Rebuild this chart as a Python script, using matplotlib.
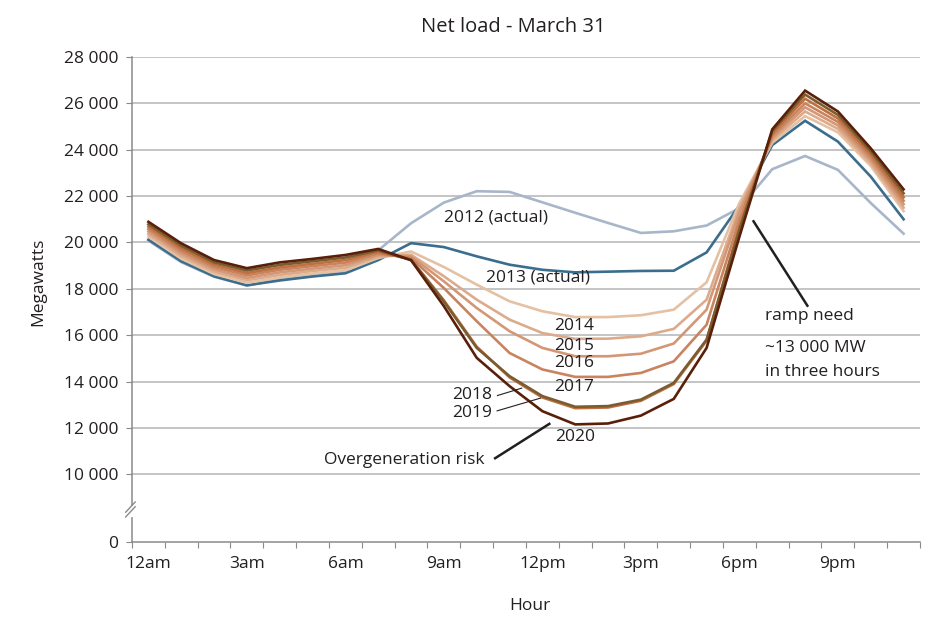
import numpy as np
import matplotlib
matplotlib.use("Agg")
import matplotlib.pyplot as plt

plt.rcParams['font.family'] = ['Open Sans', 'DejaVu Sans']

# -------------------- Data (MW, hour 0 = 12am) --------------------
hours = list(range(24))
hour_labels = ['12am', '3am', '6am', '9am', '12pm', '3pm', '6pm', '9pm']

load_2012 = [20080, 19150, 18520, 18140, 18420, 18600, 18760, 19660, 20830, 21720, 22210, 22180,
             21730, 21280, 20840, 20410, 20480, 20730, 21480, 23160, 23730, 23130, 21700, 20380]
load_2013 = [20120, 19190, 18540, 18150, 18360, 18530, 18670, 19240, 19970, 19800, 19400, 19040,
             18820, 18710, 18740, 18770, 18780, 19570, 21600, 24200, 25250, 24350, 22840, 21000]
load_2014 = [20250, 19300, 18640, 18260, 18490, 18660, 18800, 19330, 19610, 18940, 18180, 17460,
             17030, 16780, 16780, 16860, 17100, 18280, 21700, 24300, 25450, 24750, 23300, 21350]
load_2015 = [20360, 19410, 18740, 18370, 18600, 18770, 18910, 19390, 19470, 18540, 17530, 16670,
             16090, 15840, 15850, 15950, 16270, 17530, 21500, 24400, 25650, 24900, 23420, 21500]
load_2016 = [20470, 19520, 18840, 18470, 18710, 18870, 19020, 19460, 19400, 18320, 17170, 16170,
             15450, 15090, 15090, 15200, 15640, 17100, 21300, 24500, 25830, 25050, 23550, 21650]
load_2017 = [20580, 19630, 18940, 18580, 18820, 18980, 19130, 19530, 19330, 18030, 16600, 15230,
             14520, 14200, 14200, 14370, 14870, 16450, 21000, 24600, 26000, 25200, 23680, 21800]
load_2018 = [20680, 19740, 19040, 18680, 18920, 19080, 19240, 19600, 19260, 17500, 15500, 14180,
             13310, 12850, 12880, 13170, 13890, 15760, 20700, 24700, 26200, 25350, 23800, 21950]
load_2019 = [20780, 19850, 19140, 18790, 19030, 19190, 19350, 19660, 19250, 17450, 15450, 14230,
             13370, 12910, 12940, 13220, 13940, 15810, 20550, 24800, 26380, 25500, 23930, 22120]
load_2020 = [20890, 19960, 19240, 18890, 19140, 19290, 19460, 19720, 19230, 17250, 15020, 13800,
             12720, 12150, 12190, 12530, 13250, 15450, 20250, 24880, 26550, 25650, 24060, 22290]

series = [
    (load_2012, '#a8b6c9'),
    (load_2013, '#3b6d8c'),
    (load_2014, '#e5c1a4'),
    (load_2015, '#dcab8c'),
    (load_2016, '#d39775'),
    (load_2017, '#c9845f'),
    (load_2018, '#c06f3e'),
    (load_2019, '#7a5c30'),
    (load_2020, '#5a1f08'),
]

y_ticks = [0, 10000, 12000, 14000, 16000, 18000, 20000, 22000, 24000, 26000, 28000]


# -------------------- Broken y scale: 0..10000 squeezed --------------------
def fwd(y):
    y = np.asarray(y, dtype=float)
    return np.where(y >= 10000, y, 7077 + y * 0.2923)


def inv(s):
    s = np.asarray(s, dtype=float)
    return np.where(s >= 10000, s, (s - 7077) / 0.2923)


# -------------------- Plot --------------------
fig = plt.figure(figsize=(9.37, 6.31), dpi=100)
ax = fig.add_axes([132 / 937, 89 / 631, 788 / 937, 485 / 631])
ax.set_yscale('function', functions=(fwd, inv))

grid_col = '#b4b4b4'
axis_col = '#8a8a8a'
text_col = '#231f20'

for v in y_ticks[1:]:
    ax.axhline(v, color=grid_col, lw=1.1, zorder=0)

x = np.array(hours) + 0.5
for vals, col in series:
    ax.plot(x, vals, color=col, lw=1.9, solid_joinstyle='miter', zorder=3)

ax.set_xlim(0, 24)
ax.set_ylim(0, 28000)

for side in ['top', 'right']:
    ax.spines[side].set_visible(False)
for side in ['left', 'bottom']:
    ax.spines[side].set_color(axis_col)
    ax.spines[side].set_linewidth(1.1)

ax.set_yticks(y_ticks)
ax.set_yticklabels(['{:,}'.format(v).replace(',', ' ') for v in y_ticks])
ax.set_xticks(range(25))
ax.set_xticklabels([])
ax.set_xticks(np.arange(0, 24, 3) + 0.5, minor=True)
ax.set_xticklabels(hour_labels, minor=True)
ax.tick_params(axis='y', which='major', length=4, color=axis_col, labelsize=12.5,
               labelcolor=text_col, pad=6)
ax.tick_params(axis='x', which='major', length=4, color=axis_col)
ax.tick_params(axis='x', which='minor', length=0, labelsize=12.5, labelcolor=text_col, pad=10)
ax.yaxis.set_minor_locator(matplotlib.ticker.NullLocator())

# axis break marks
tr = ax.get_yaxis_transform()
ax.plot([0, 0], [4000, 5000], transform=tr, color='white', lw=3, clip_on=False, zorder=5)
for dy in [0, 700]:
    ax.plot([-0.008, 0.004], [3700 + dy, 5200 + dy], transform=tr, color=axis_col,
            lw=1.0, clip_on=False, zorder=6)

# -------------------- Annotations --------------------
fs = 12.5
ax.text(11.09, 21094, '2012 (actual)', ha='center', va='center', fontsize=fs, color=text_col)
ax.text(12.37, 18467, '2013 (actual)', ha='center', va='center', fontsize=fs, color=text_col)
ax.text(13.46, 16407, '2014', ha='center', va='center', fontsize=fs, color=text_col)
ax.text(13.46, 15543, '2015', ha='center', va='center', fontsize=fs, color=text_col)
ax.text(13.46, 14795, '2016', ha='center', va='center', fontsize=fs, color=text_col)
ax.text(13.46, 13784, '2017', ha='center', va='center', fontsize=fs, color=text_col)
ax.text(10.96, 13404, '2018', ha='right', va='center', fontsize=fs, color=text_col)
ax.text(10.96, 12661, '2019', ha='right', va='center', fontsize=fs, color=text_col)
ax.text(13.49, 11624, '2020', ha='center', va='center', fontsize=fs, color=text_col)
ax.plot([11.13, 11.87], [13396, 13715], color=text_col, lw=0.8, zorder=4)
ax.plot([11.12, 12.44], [12735, 13283], color=text_col, lw=0.8, zorder=4)

ax.text(10.75, 10618, 'Overgeneration risk', ha='right', va='center', fontsize=fs, color=text_col)
ax.plot([11.06, 12.71], [10691, 12173], color=text_col, lw=1.8, zorder=4)

ax.text(19.28, 16808, 'ramp need', ha='left', va='center', fontsize=fs, color=text_col)
ax.text(19.28, 15443, '~13 000 MW', ha='left', va='center', fontsize=fs, color=text_col)
ax.text(19.28, 14432, 'in three hours', ha='left', va='center', fontsize=fs, color=text_col)
ax.plot([18.93, 20.57], [20912, 17271], color=text_col, lw=1.8, zorder=4)

fig.text(513 / 937, 1 - 27 / 631, 'Net load - March 31', ha='center', va='center',
         fontsize=14.5, color=text_col)
fig.text(38 / 937, 1 - 282 / 631, 'Megawatts', ha='center', va='center', rotation=90,
         fontsize=12.5, color=text_col)
fig.text(530 / 937, 1 - 606 / 631, 'Hour', ha='center', va='center', fontsize=12.5,
         color=text_col)

fig.savefig('out.png', dpi=100, facecolor='white')
